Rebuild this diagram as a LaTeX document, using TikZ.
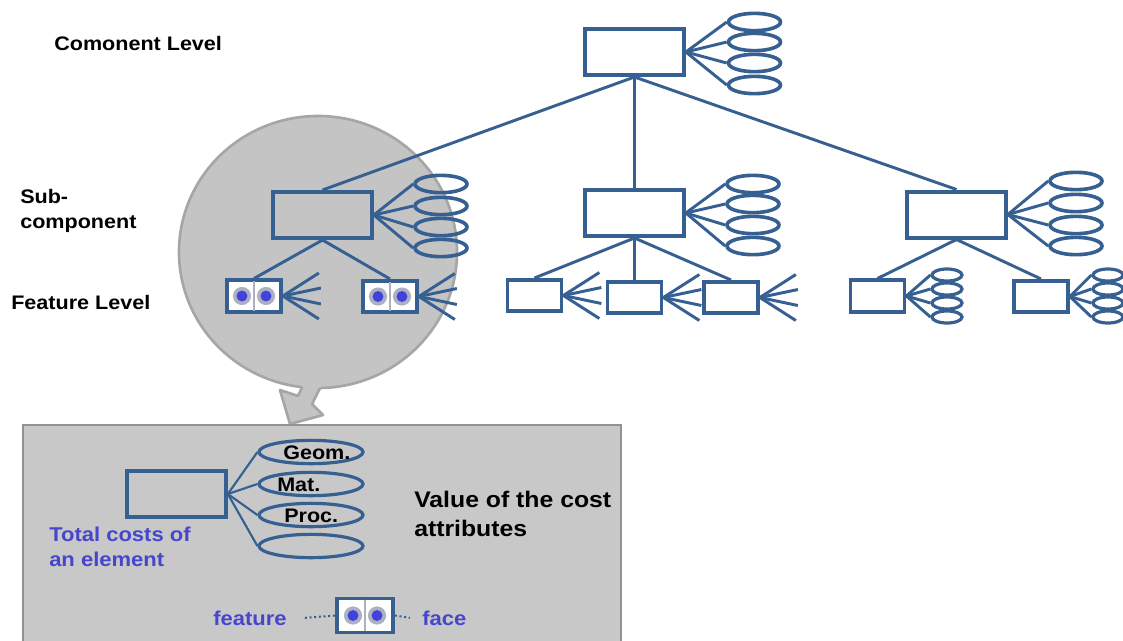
\documentclass[tikz,border=0pt]{standalone}
\usepackage{fontspec}
\setmainfont{Liberation Sans}[FakeStretch=1.1]
\usetikzlibrary{shapes.geometric,calc}
\definecolor{bl}{RGB}{54,96,146}
\definecolor{cgray}{RGB}{196,196,196}
\definecolor{cbord}{RGB}{166,166,166}
\definecolor{bgray}{RGB}{200,200,200}
\definecolor{bbord}{RGB}{146,146,146}
\definecolor{tblue}{RGB}{70,70,205}
\definecolor{dotb}{RGB}{65,65,220}
\definecolor{ringc}{RGB}{172,176,192}
\newcommand\twodots[1]{%
  \draw[ringc, line width=0.8pt] ($(#1.north)+(0,3)$) -- ($(#1.south)+(0,-3)$);
  \foreach \d in {-12,12}{%
    \fill[ringc] ($(#1.center)+(\d,0)$) circle (6.8pt);
    \fill[dotb] ($(#1.center)+(\d,0)$) circle (4.1pt);}%
}
\begin{document}
\begin{tikzpicture}[x=0.75pt,y=-0.75pt,
  bx/.style={draw=bl, line width=3pt, minimum width=74pt, minimum height=34.5pt, inner sep=0},
  fb/.style={draw=bl, line width=2.8pt, minimum width=40.5pt, minimum height=23.5pt, inner sep=0},
  el/.style={ellipse, draw=bl, line width=2.7pt, minimum width=39pt, minimum height=13pt, inner sep=0},
  sel/.style={ellipse, draw=bl, line width=2.4pt, minimum width=22.5pt, minimum height=9pt, inner sep=0},
  bel/.style={ellipse, draw=bl, line width=2.4pt, minimum width=78pt, minimum height=17.5pt, inner sep=0},
  ln/.style={draw=bl, line width=2.2pt},
  lab/.style={anchor=base west, inner sep=0, font=\bfseries\fontsize{14.7pt}{17pt}\selectfont},
  blab/.style={lab, text=tblue, font=\bfseries\fontsize{15pt}{17pt}\selectfont},
  vlab/.style={lab, font=\bfseries\fontsize{16.9pt}{19pt}\selectfont},
]
\clip (0,0) rectangle (1123,640);
\fill[white] (0,0) rectangle (1123,640);

% grey magnifier circle and arrow
\node[ellipse, fill=cgray, draw=cbord, line width=2pt, minimum width=208.5pt, minimum height=204pt] (G) at (318,252) {};
\fill[cgray] (312,366) -- (298,396) -- (280,390) -- (290,424) -- (323,415) -- (312,404) -- (327,374) -- cycle;
\draw[cbord, line width=2pt, line join=round] (302.2,387) -- (298,396) -- (280,390) -- (290,424) -- (323,415) -- (312,404) -- (320,388);

% bottom detail box
\draw[draw=bbord, fill=bgray, line width=2.2pt] (23,425) rectangle (621,660);

% level labels
\node[lab] (L1) at (54,50) {Comonent Level};
\node[lab] (L2) at (20,203) {Sub-};
\node[lab] (L3) at (20,228) {component};
\node[lab] (L4) at (11,309) {Feature Level};

% component level
\node[bx] (C) at (634.5,52) {};
\foreach \n/\y in {1/22,2/42,3/63,4/85}{
  \node[el] (c\n) at (754.5,\y) {};
  \draw[ln] (C.east) -- (c\n.west);
}

% sub-components
\node[bx] (S1) at (322.5,215) {};
\node[bx] (S2) at (634.5,213) {};
\node[bx] (S3) at (956.5,214.5) {};
\foreach \n/\y in {1/184,2/206,3/227,4/248}{
  \node[el] (s1e\n) at (441,\y) {};
  \draw[ln] (S1.east) -- (s1e\n.west);
}
\foreach \n/\y in {1/184,2/204,3/225,4/246}{
  \node[el] (s2e\n) at (753,\y) {};
  \draw[ln] (S2.east) -- (s2e\n.west);
}
\foreach \n/\y in {1/181,2/203,3/225,4/246}{
  \node[el] (s3e\n) at (1076,\y) {};
  \draw[ln] (S3.east) -- (s3e\n.west);
}
\draw[ln] (C.south) -- (S1.north);
\draw[ln] (C.south) -- (S2.north);
\draw[ln] (C.south) -- (S3.north);

% feature level
\node[fb, fill=white] (F1) at (254,296) {};
\node[fb, fill=white] (F2) at (390,296.5) {};
\twodots{F1}
\twodots{F2}
\node[fb] (Pa) at (534.5,295.5) {};
\node[fb] (Pb) at (634.5,297.5) {};
\node[fb] (Pc) at (731,297.5) {};
\node[fb] (Pd) at (877.5,296) {};
\node[fb] (Pe) at (1041,296.5) {};
\foreach \b in {F1,F2,Pa,Pb,Pc}{
  \foreach \dx/\dy in {36/-23,38/-8,38/8,36/23}{
    \draw[ln] (\b.east) -- ++(\dx,\dy);
  }
}
\foreach \n/\y in {1/275,2/289,3/303,4/317}{
  \node[sel] (pd\n) at (947,\y) {};
  \draw[ln] (Pd.east) -- (pd\n.west);
  \node[sel] (pe\n) at (1108,\y) {};
  \draw[ln] (Pe.east) -- (pe\n.west);
}
\draw[ln] (S1.south) -- (F1.north);
\draw[ln] (S1.south) -- (F2.north);
\draw[ln] (S2.south) -- (Pa.north);
\draw[ln] (S2.south) -- (Pb.north);
\draw[ln] (S2.south) -- (Pc.north);
\draw[ln] (S3.south) -- (Pd.north);
\draw[ln] (S3.south) -- (Pe.north);

% detail contents
\node[bx] (T) at (176.5,494) {};
\foreach \n/\y in {1/452,2/484,3/515,4/546}{
  \node[bel] (g\n) at (311,\y) {};
  \draw[bl, line width=1.6pt] (T.east) -- (g\n.west);
}
\node[lab] (tg) at (283,459) {Geom.};
\node[lab] (tm) at (277,491) {Mat.};
\node[lab] (tp) at (284,522) {Proc.};
\node[vlab] (v1) at (414,507) {Value of the cost};
\node[vlab] (v2) at (414,536) {attributes};
\node[blab] (tc1) at (49,541) {Total costs of};
\node[blab] (tc2) at (49,566) {an element};
\node[blab] (ft) at (213,625) {feature};
\node[blab] (fc) at (422,625) {face};
\node[fb, fill=white, minimum width=42pt, minimum height=25.5pt] (BF) at (365,615.5) {};
\twodots{BF}
\draw[bl, dotted, line width=1.5pt] ([xshift=13.5pt]ft.east) -- (BF.west);
\draw[bl, dotted, line width=1.5pt] (BF.east) -- ([xshift=-9pt]fc.west);
\end{tikzpicture}
\end{document}
